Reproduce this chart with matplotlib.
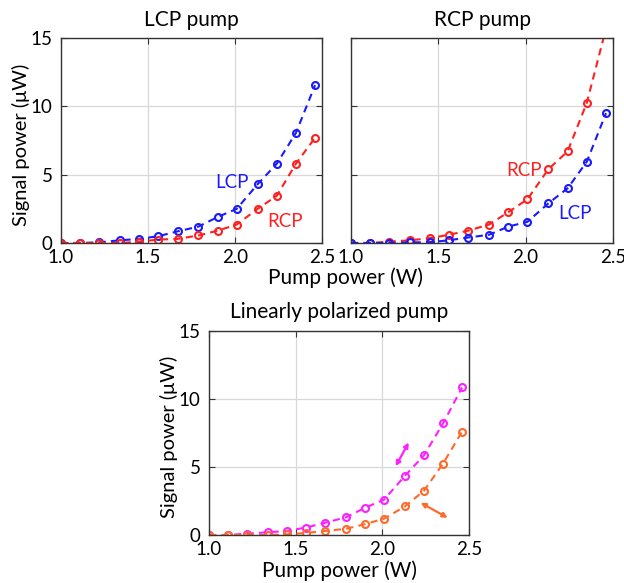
import matplotlib.pyplot as plt
import numpy as np

plt.rcParams['font.family'] = ['Lato', 'DejaVu Sans']
plt.rcParams['font.size'] = 12

# --- Data ---
pump = [1.00, 1.11, 1.22, 1.34, 1.45, 1.56, 1.67, 1.79, 1.90, 2.01, 2.13, 2.24, 2.35, 2.46]

# LCP pump panel
lcp_pump_lcp = [0.0, 0.0, 0.05, 0.2, 0.3, 0.5, 0.85, 1.2, 1.9, 2.5, 4.3, 5.8, 8.05, 11.55]
lcp_pump_rcp = [0.0, 0.0, 0.0, 0.0, 0.1, 0.25, 0.3, 0.55, 0.9, 1.35, 2.5, 3.45, 5.8, 7.7]

# RCP pump panel
rcp_pump_rcp = [0.0, 0.0, 0.1, 0.2, 0.35, 0.6, 0.9, 1.35, 2.25, 3.2, 5.4, 6.7, 10.25, 15.7]
rcp_pump_lcp = [0.0, 0.0, 0.0, 0.05, 0.05, 0.2, 0.4, 0.6, 1.2, 1.55, 2.9, 4.0, 5.95, 9.5]

# Linearly polarized pump panel
lin_upper = [0.0, 0.0, 0.1, 0.2, 0.3, 0.55, 0.9, 1.3, 2.0, 2.6, 4.35, 5.85, 8.2, 10.85]
lin_lower = [0.0, 0.0, 0.0, 0.0, 0.05, 0.15, 0.3, 0.45, 0.8, 1.2, 2.1, 3.25, 5.25, 7.6]

BLUE = '#1a1aff'
RED = '#ff2020'
MAGENTA = '#ff20ff'
ORANGE = '#ff6a2a'

W, H = 624, 583
fig = plt.figure(figsize=(W / 100, H / 100), dpi=100)


def make_axes(x0, y0, x1, y1):
    return fig.add_axes([x0 / W, 1 - y1 / H, (x1 - x0) / W, (y1 - y0) / H])


def style(ax, ylabels=True):
    ax.set_xlim(1.0, 2.5)
    ax.set_ylim(0, 15)
    ax.set_xticks([1.0, 1.5, 2.0, 2.5])
    ax.set_xticklabels(['1.0', '1.5', '2.0', '2.5'])
    ax.set_yticks([0, 5, 10, 15])
    if not ylabels:
        ax.set_yticklabels([])
    ax.tick_params(direction='in', top=True, right=True, length=4,
                   labelsize=13.5, pad=4, color='#333333')
    ax.tick_params(axis='y', pad=6)
    ax.grid(True, color='#d8d8d8', linewidth=0.9)
    ax.set_axisbelow(True)
    for sp in ax.spines.values():
        sp.set_color('#333333')
        sp.set_linewidth(1.0)


def curve(ax, y, color):
    ax.plot(pump, y, linestyle='--', color=color, linewidth=1.5,
            marker='o', markersize=5, fillstyle='none', markeredgewidth=1.5,
            dashes=(3.5, 2.5))


# --- LCP pump ---
ax1 = make_axes(61, 38, 322, 243)
style(ax1)
curve(ax1, lcp_pump_lcp, BLUE)
curve(ax1, lcp_pump_rcp, RED)
ax1.text(1.985, 4.45, 'LCP', color=BLUE, fontsize=13.5, ha='center', va='center')
ax1.text(2.285, 1.6, 'RCP', color=RED, fontsize=13.5, ha='center', va='center')
ax1.set_title('LCP pump', fontsize=15, pad=9)
ax1.set_ylabel('Signal power (\u03bcW)', fontsize=14.5)
ax1.yaxis.set_label_coords(-0.119, 0.48)

# --- RCP pump ---
ax2 = make_axes(351, 38, 613, 243)
style(ax2, ylabels=False)
curve(ax2, rcp_pump_rcp, RED)
curve(ax2, rcp_pump_lcp, BLUE)
ax2.text(1.99, 5.3, 'RCP', color=RED, fontsize=13.5, ha='center', va='center')
ax2.text(2.28, 2.15, 'LCP', color=BLUE, fontsize=13.5, ha='center', va='center')
ax2.set_title('RCP pump', fontsize=15, pad=9)

fig.text(345 / W, 1 - 278 / H, 'Pump power (W)', fontsize=15,
         ha='center', va='center')

# --- Linearly polarized pump ---
ax3 = make_axes(209, 331, 469, 535)
style(ax3)
curve(ax3, lin_upper, MAGENTA)
curve(ax3, lin_lower, ORANGE)
ax3.annotate('', xy=(2.152, 6.8), xytext=(2.077, 5.06),
             arrowprops=dict(arrowstyle='<|-|>', color=MAGENTA, lw=1.6,
                             mutation_scale=7, shrinkA=0, shrinkB=0))
ax3.annotate('', xy=(2.377, 1.27), xytext=(2.221, 2.37),
             arrowprops=dict(arrowstyle='<|-|>', color=ORANGE, lw=1.6,
                             mutation_scale=7, shrinkA=0, shrinkB=0))
ax3.set_title('Linearly polarized pump', fontsize=15, pad=9)
ax3.set_ylabel('Signal power (\u03bcW)', fontsize=14.5)
ax3.yaxis.set_label_coords(-0.119, 0.48)
ax3.set_xlabel('Pump power (W)', fontsize=15, labelpad=2)

fig.savefig('out.png', dpi=100)
